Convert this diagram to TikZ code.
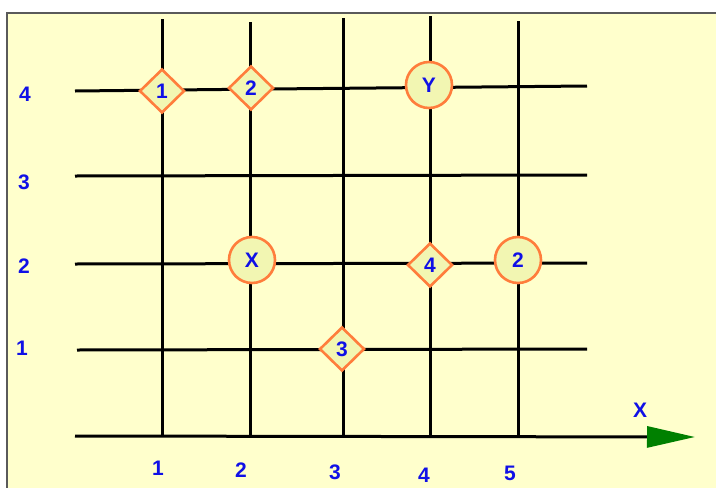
\documentclass[tikz,border=0pt]{standalone}
\usepackage{fontspec}
\setmainfont{Liberation Sans}
\usetikzlibrary{shapes.geometric,arrows.meta}
\definecolor{bgyellow}{RGB}{255,255,204}
\definecolor{nodefill}{RGB}{242,246,178}
\definecolor{orangeedge}{RGB}{255,125,60}
\definecolor{labelblue}{RGB}{16,16,230}
\definecolor{arrowgreen}{RGB}{0,128,0}
\definecolor{framegray}{RGB}{90,90,90}
\tikzset{
  gridline/.style={line width=3pt, black},
  lbl/.style={font=\fontsize{21}{21}\selectfont\bfseries, text=labelblue, inner sep=0pt},
  dnode/.style={diamond, draw=orangeedge, line width=2.6pt, fill=nodefill, minimum width=45pt, minimum height=44pt, inner sep=0pt, lbl},
  cnode/.style={circle, draw=orangeedge, line width=2.6pt, fill=nodefill, minimum size=46pt, inner sep=0pt, lbl},
}
\begin{document}
\begin{tikzpicture}[x=1pt,y=-1pt]
\useasboundingbox (0,0) rectangle (716,488);
\fill[bgyellow] (7,13) rectangle (716,488);
\draw[framegray, line width=1.6pt] (7,488) -- (7,13) -- (716,13);

% grid end coordinates
\coordinate (v1t) at (162,19); \coordinate (v1b) at (162,436);
\coordinate (v2t) at (250,22); \coordinate (v2b) at (250,436);
\coordinate (v3t) at (343,18); \coordinate (v3b) at (343,436);
\coordinate (v4t) at (430,16); \coordinate (v4b) at (430,436);
\coordinate (v5t) at (518,21); \coordinate (v5b) at (518,436);
\coordinate (h4l) at (75,91);  \coordinate (h4m) at (270,89); \coordinate (h4r) at (587,86);
\coordinate (h3l) at (75,176); \coordinate (h3r) at (587,175);
\coordinate (h2l) at (75,264); \coordinate (h2r) at (587,263);
\coordinate (h1l) at (77,350); \coordinate (h1r) at (587,349);
\coordinate (axl) at (75,436); \coordinate (axr) at (695,437);

\foreach \i in {1,...,5} \draw[gridline] (v\i t) -- (v\i b);
\draw[gridline] (h4l) -- (h4m) -- (h4r);
\draw[gridline] (h3l) -- (h3r);
\draw[gridline] (h2l) -- (h2r);
\draw[gridline] (h1l) -- (h1r);
\draw[gridline, -{Triangle[length=48pt,width=21pt,color=arrowgreen]}] (axl) -- (axr);

% nodes
\node[dnode] (d1) at (162,91) {1};
\node[dnode] (d2) at (251,88) {2};
\node[cnode] (cy) at (429,85) {Y};
\node[cnode] (cx) at (252,260) {X};
\node[dnode] (d4) at (430,265) {4};
\node[cnode] (c2) at (518,260) {2};
\node[dnode] (d3) at (342,349) {3};

% axis labels
\node[lbl] (ly4) at (25,94) {4};
\node[lbl] (ly3) at (24,182) {3};
\node[lbl] (ly2) at (24,266) {2};
\node[lbl] (ly1) at (22,348) {1};
\node[lbl] (lx1) at (158,468) {1};
\node[lbl] (lx2) at (241,470) {2};
\node[lbl] (lx3) at (335,472) {3};
\node[lbl] (lx4) at (424,475) {4};
\node[lbl] (lx5) at (510,473) {5};
\node[lbl] (lxx) at (640,410) {X};
\end{tikzpicture}
\end{document}
